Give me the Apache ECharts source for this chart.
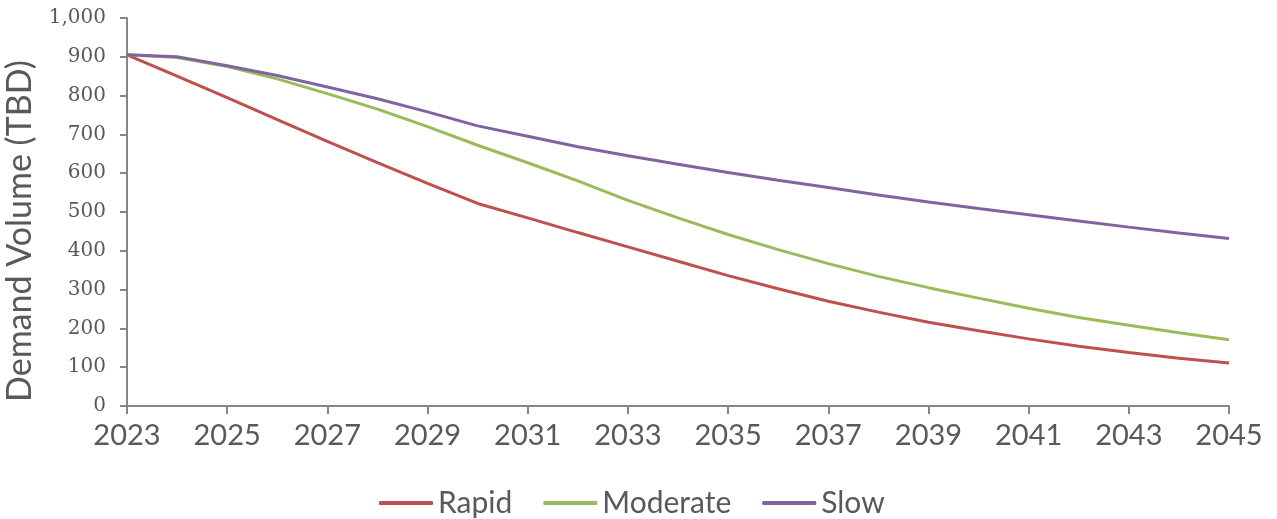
<!DOCTYPE html>
<html>
<head>
<meta charset="utf-8">
<script src="https://cdn.jsdelivr.net/npm/echarts@6/dist/echarts.min.js"></script>
<style>
  html, body { margin: 0; padding: 0; background: #fff; }
  #chart { width: 1277px; height: 519px; }
</style>
</head>
<body>
<div id="chart"></div>
<script>
// years on the x axis
const years = [];
for (let y = 2023; y <= 2045; y++) years.push(String(y));

// demand volume per scenario
const rapid = [905, 850, 795, 738, 682, 627, 574, 522, 485, 447, 410, 373, 336, 302, 270, 242, 216, 194, 173, 154, 138, 123, 111];
const moderate = [905, 898, 875, 843, 805, 765, 720, 672, 627, 580, 530, 485, 442, 403, 367, 334, 305, 278, 252, 228, 208, 189, 171];
const slow = [905, 900, 877, 852, 822, 792, 758, 722, 695, 668, 645, 623, 602, 582, 563, 544, 526, 509, 493, 477, 461, 446, 432];

const axisGrey = '#868686';
const textGrey = '#595959';

function lineSeries(name, data, color) {
  return {
    name: name,
    type: 'line',
    data: data,
    symbol: 'none',
    lineStyle: { color: color, width: 3 },
    itemStyle: { color: color }
  };
}

const chart = echarts.init(document.getElementById('chart'));
chart.setOption({
  backgroundColor: '#fff',
  animation: false,
  grid: { left: 127, right: 48, top: 18, bottom: 113, outerBoundsMode: 'none' },
  legend: {
    top: 483,
    left: 374,
    itemWidth: 54,
    itemHeight: 4,
    itemGap: 31,
    icon: 'roundRect',
    textStyle: { fontFamily: 'Lato', fontSize: 30, color: textGrey }
  },
  xAxis: {
    type: 'category',
    data: years,
    boundaryGap: false,
    axisLine: { lineStyle: { color: axisGrey, width: 2 } },
    axisTick: { interval: 1, length: 8, lineStyle: { color: axisGrey, width: 2 } },
    axisLabel: { interval: 1, fontFamily: 'Lato', fontSize: 29, color: textGrey, margin: 15 },
    splitLine: { show: false }
  },
  yAxis: {
    type: 'value',
    min: 0,
    max: 1000,
    interval: 100,
    name: 'Demand Volume (TBD)',
    nameLocation: 'middle',
    nameGap: 90,
    nameTextStyle: { fontFamily: 'Lato', fontSize: 34, color: textGrey, padding: [0, 38, 0, 0] },
    axisLine: { show: true, lineStyle: { color: axisGrey, width: 2 } },
    axisTick: { show: true, length: 7, lineStyle: { color: axisGrey, width: 2 } },
    axisLabel: {
      fontFamily: 'DejaVu Serif',
      fontSize: 20,
      color: textGrey,
      margin: 21,
      formatter: v => v.toLocaleString('en-US')
    },
    splitLine: { show: false }
  },
  series: [
    lineSeries('Rapid', rapid, '#C0504D'),
    lineSeries('Moderate', moderate, '#9BBB59'),
    lineSeries('Slow', slow, '#8064A2')
  ]
});
</script>
</body>
</html>
